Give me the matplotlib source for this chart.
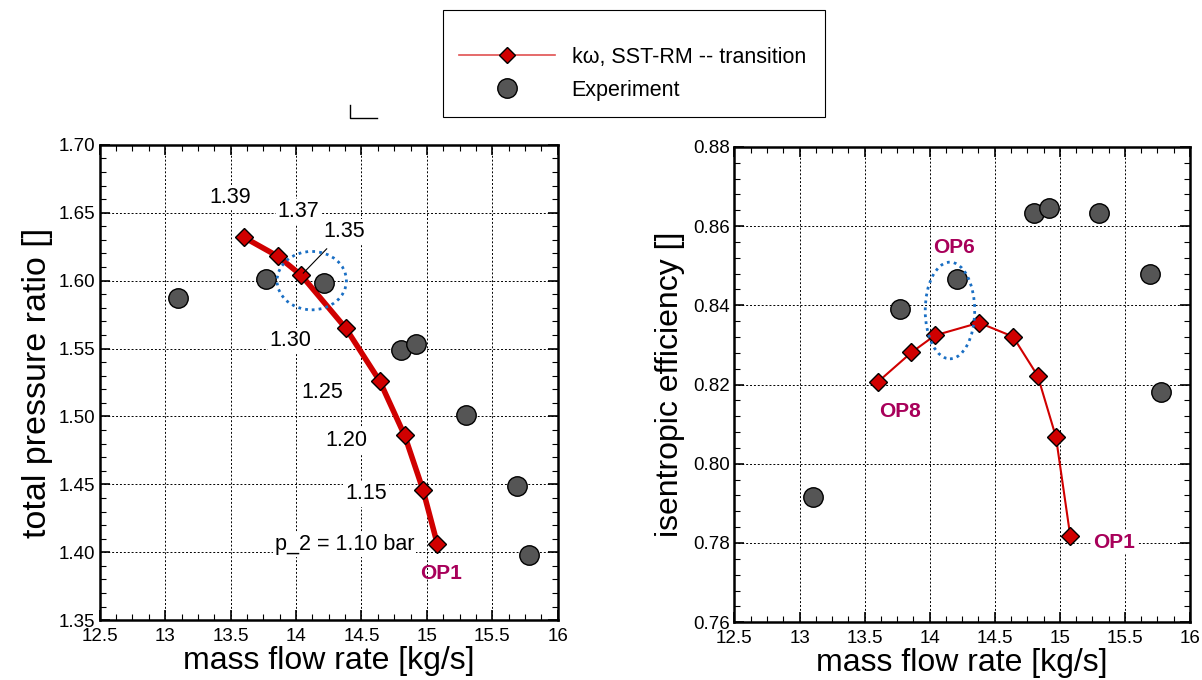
import matplotlib
matplotlib.use('Agg')
import matplotlib.pyplot as plt
from matplotlib.lines import Line2D
from matplotlib.patches import Ellipse, Rectangle
from matplotlib.ticker import MultipleLocator, FormatStrFormatter

plt.rcParams['font.family'] = ['Liberation Sans', 'DejaVu Sans']

# simulation (k-omega SST-RM transition), OP8 ... OP1
x_sim = [13.60, 13.86, 14.04, 14.38, 14.64, 14.83, 14.97, 15.08]
pr_sim = [1.632, 1.618, 1.604, 1.565, 1.526, 1.486, 1.446, 1.406]
eff_sim = [0.8206, 0.8281, 0.8324, 0.8356, 0.8321, 0.8222, 0.8068, 0.7818]

# experiment
x_exp = [13.10, 13.77, 14.21, 14.80, 14.92, 15.30, 15.69, 15.78]
pr_exp = [1.587, 1.601, 1.598, 1.549, 1.553, 1.501, 1.449, 1.398]
eff_exp = [0.7915, 0.8390, 0.8467, 0.8633, 0.8645, 0.8632, 0.8480, 0.8180]

# back pressure labels along the speed line
p2_labels = ['1.39', '1.37', '1.35', '1.30', '1.25', '1.20', '1.15', 'p_2 = 1.10 bar']
p2_pos = [(13.50, 1.661), (14.02, 1.651), (14.37, 1.636), (13.96, 1.556),
          (14.20, 1.5175), (14.385, 1.482), (14.535, 1.443), (14.37, 1.4058)]

red = '#d00000'
op_col = '#a8005a'
fig = plt.figure(figsize=(12.02, 6.8), dpi=100)
ax1 = fig.add_axes([0.083, 0.088, 0.381, 0.699])
ax2 = fig.add_axes([0.611, 0.085, 0.379, 0.699])


def style(ax):
    ax.set_xlim(12.5, 16)
    ax.xaxis.set_major_locator(MultipleLocator(0.5))
    ax.xaxis.set_minor_locator(MultipleLocator(0.125))
    ax.xaxis.set_major_formatter(FormatStrFormatter('%g'))
    ax.tick_params(which='both', direction='in', top=True, right=True, labelsize=13.5)
    ax.tick_params(axis='x', pad=5.5)
    ax.tick_params(axis='y', pad=3)
    ax.tick_params(which='major', length=7, width=1.2)
    ax.tick_params(which='minor', length=4, width=0.8)
    ax.grid(True, which='major', color='black', linestyle=(0, (2, 2)), linewidth=0.7)
    ax.set_axisbelow(True)
    for s in ax.spines.values():
        s.set_linewidth(1.8)
    ax.set_xlabel('mass flow rate [kg/s]', fontsize=23, labelpad=1)


# left: pressure ratio
style(ax1)
ax1.set_ylim(1.35, 1.70)
ax1.yaxis.set_major_locator(MultipleLocator(0.05))
ax1.yaxis.set_minor_locator(MultipleLocator(0.01))
ax1.yaxis.set_major_formatter(FormatStrFormatter('%.2f'))
ax1.set_ylabel('total pressure ratio []', fontsize=24.5, labelpad=4)
ax1.plot(x_sim, pr_sim, '-', color=red, lw=4, zorder=3)
ax1.plot(x_sim, pr_sim, 'D', color=red, mec='black', mew=1, ms=9, zorder=4)
ax1.plot(x_exp, pr_exp, 'o', color='#555555', mec='black', mew=1, ms=14, zorder=4)
for lab, (xx, yy) in zip(p2_labels, p2_pos):
    ax1.text(xx, yy, lab, fontsize=15.5, ha='center', va='center', zorder=2,
             bbox=dict(facecolor='white', edgecolor='none', pad=1.5))
ax1.annotate('', xy=(x_sim[2], pr_sim[2]), xytext=(14.25, 1.625),
             arrowprops=dict(arrowstyle='-', color='black', lw=0.8), zorder=5)
ax1.add_patch(Ellipse((14.12, 1.600), 0.53, 0.043, fill=False, edgecolor='#1a6fc4',
                      linestyle=(0, (1, 1.5)), lw=2, zorder=5))
ax1.text(15.11, 1.384, 'OP1', color=op_col, fontsize=15, fontweight='bold', ha='center', va='center')

# right: efficiency
style(ax2)
ax2.set_ylim(0.76, 0.88)
ax2.yaxis.set_major_locator(MultipleLocator(0.02))
ax2.yaxis.set_minor_locator(MultipleLocator(0.004))
ax2.yaxis.set_major_formatter(FormatStrFormatter('%.2f'))
ax2.set_ylabel('isentropic efficiency []', fontsize=23, labelpad=6)
ax2.plot(x_sim, eff_sim, '-', color=red, lw=1.5, zorder=3)
ax2.plot(x_sim, eff_sim, 'D', color=red, mec='black', mew=1, ms=9, zorder=4)
ax2.plot(x_exp, eff_exp, 'o', color='#555555', mec='black', mew=1, ms=14, zorder=4)
ax2.add_patch(Ellipse((14.156, 0.8387), 0.38, 0.0244, fill=False, edgecolor='#1a6fc4',
                      linestyle=(0, (1, 1.5)), lw=2, zorder=5))
for lab, xx, yy in [('OP6', 14.185, 0.8546), ('OP8', 13.77, 0.8131), ('OP1', 15.42, 0.7802)]:
    ax2.text(xx, yy, lab, color=op_col, fontsize=15, fontweight='bold', ha='center', va='center',
             bbox=dict(facecolor='white', edgecolor='none', pad=1))

# legend: frameless legend inside a drawn box
fig.add_artist(Rectangle((0.3686, 0.828), 0.3178, 0.1573, transform=fig.transFigure,
                         fill=False, edgecolor='black', lw=0.8))
handles = [Line2D([], [], color='#e05050', lw=1.2, marker='D', mfc=red, mec='black', ms=8),
           Line2D([], [], ls='none', marker='o', color='#555555', mec='black', ms=14)]
leg = fig.legend(handles, ['k\u03c9, SST-RM -- transition', 'Experiment'],
                 loc='upper left', bbox_to_anchor=(0.3815, 0.931), fontsize=15.5,
                 frameon=False, handlelength=4.5, borderpad=0, labelspacing=0.55,
                 handletextpad=0.75, borderaxespad=0)

# small stray mark left of the legend
fig.add_artist(Line2D([0.2915, 0.2915, 0.314], [0.845, 0.827, 0.827], color='black', lw=1))

fig.savefig('out.png', dpi=100)
